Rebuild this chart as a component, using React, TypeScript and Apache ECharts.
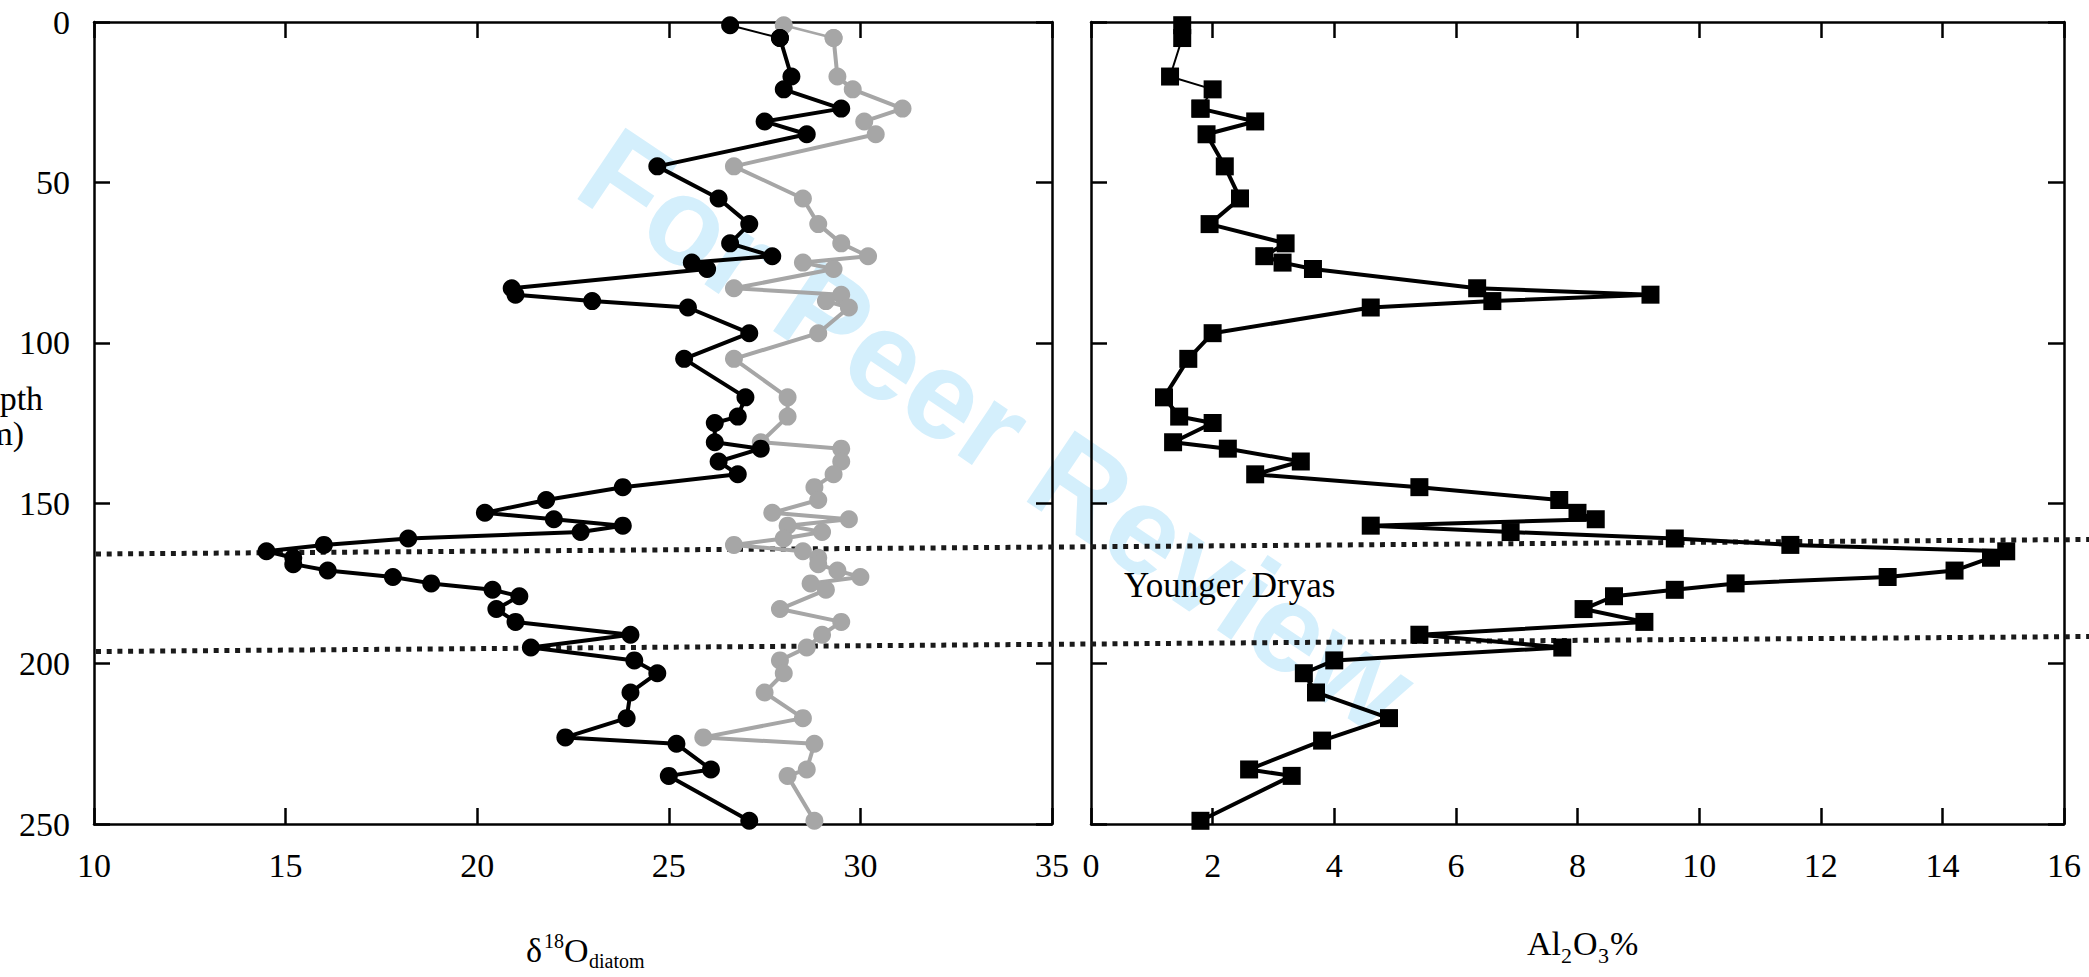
import React, { useEffect, useRef } from "react";
import * as echarts from "echarts";

// Depth (cm) and delta18O of diatom, black series
const blackDepth = [1, 5, 17, 21, 27, 31, 35, 45, 55, 63, 69, 73, 75, 77, 83, 85, 87, 89, 97, 105, 117, 123, 125, 131, 133, 137, 141, 145, 149, 153, 155, 157, 159, 161, 163, 165, 167, 169, 171, 173, 175, 177, 179, 183, 187, 191, 195, 199, 203, 209, 217, 223, 225, 233, 235, 249];
const blackD18O = [26.6, 27.9, 28.2, 28.0, 29.5, 27.5, 28.6, 24.7, 26.3, 27.1, 26.6, 27.7, 25.6, 26.0, 20.9, 21.0, 23.0, 25.5, 27.1, 25.4, 27.0, 26.8, 26.2, 26.2, 27.4, 26.3, 26.8, 23.8, 21.8, 20.2, 22.0, 23.8, 22.7, 18.2, 16.0, 14.5, 15.2, 15.2, 16.1, 17.8, 18.8, 20.4, 21.1, 20.5, 21.0, 24.0, 21.4, 24.1, 24.7, 24.0, 23.9, 22.3, 25.2, 26.1, 25.0, 27.1];

// grey series
const grayDepth = [1, 5, 17, 21, 27, 31, 35, 45, 55, 63, 69, 73, 75, 77, 83, 85, 87, 89, 97, 105, 117, 123, 131, 133, 137, 141, 145, 149, 153, 155, 157, 159, 161, 163, 165, 167, 169, 171, 173, 175, 177, 183, 187, 191, 195, 199, 203, 209, 217, 223, 225, 233, 235, 249];
const grayD18O = [28.0, 29.3, 29.4, 29.8, 31.1, 30.1, 30.4, 26.7, 28.5, 28.9, 29.5, 30.2, 28.5, 29.3, 26.7, 29.5, 29.1, 29.7, 28.9, 26.7, 28.1, 28.1, 27.4, 29.5, 29.5, 29.3, 28.8, 28.9, 27.7, 29.7, 28.1, 29.0, 28.0, 26.7, 28.5, 28.9, 28.9, 29.4, 30.0, 28.7, 29.1, 27.9, 29.5, 29.0, 28.6, 27.9, 28.0, 27.5, 28.5, 25.9, 28.8, 28.6, 28.1, 28.8];

// Al2O3 %
const alDepth = [1, 5, 17, 21, 27, 31, 35, 45, 55, 63, 69, 73, 75, 77, 83, 85, 87, 89, 97, 105, 117, 123, 125, 131, 133, 137, 141, 145, 149, 153, 155, 157, 159, 161, 163, 165, 167, 171, 173, 175, 177, 179, 183, 187, 191, 195, 199, 203, 209, 217, 224, 233, 235, 249];
const alPct = [1.5, 1.5, 1.3, 2.0, 1.8, 2.7, 1.9, 2.2, 2.45, 1.95, 3.2, 2.85, 3.15, 3.65, 6.35, 9.2, 6.6, 4.6, 2.0, 1.6, 1.2, 1.45, 2.0, 1.35, 2.25, 3.45, 2.7, 5.4, 7.7, 8.0, 8.3, 4.6, 6.9, 9.6, 11.5, 15.05, 14.8, 14.2, 13.1, 10.6, 9.6, 8.6, 8.1, 9.1, 5.4, 7.75, 4.0, 3.5, 3.7, 4.9, 3.8, 2.6, 3.3, 1.8];

const d18oRange = [10, 35, 5]; // min, max, interval
const alRange = [0, 16, 2];
const depthRange = [0, 250, 50];

const SERIF = "Liberation Serif";

function pairs(xs: number[], ys: number[], from: number, to: number) {
  const out: number[][] = [];
  for (let i = from; i < Math.min(to, xs.length); i++) out.push([xs[i], ys[i]]);
  return out;
}

export default function App() {
  const ref = useRef<HTMLDivElement>(null);
  useEffect(() => {
    if (!ref.current) return;
    const chart = echarts.init(ref.current, undefined, { renderer: "svg" });
    const axisLine = { show: true, onZero: false, lineStyle: { color: "#000", width: 2.5 } };
    const axisTick = { show: true, inside: true, length: 16, lineStyle: { color: "#000", width: 2.5 } };
    const label = () => ({ show: true, color: "#000", fontFamily: SERIF, fontSize: 34, fontWeight: "normal", margin: 24 });
    const noLabel = { show: false };
    const xAx = (grid: number, pos: string, r: number[], showLabel: boolean) => ({
      gridIndex: grid, type: "value", position: pos, min: r[0], max: r[1], interval: r[2],
      axisLine, axisTick, axisLabel: showLabel ? label() : noLabel, splitLine: { show: false },
    });
    const yAx = (grid: number, pos: string, showLabel: boolean) => ({
      gridIndex: grid, type: "value", position: pos, inverse: true, min: depthRange[0], max: depthRange[1], interval: depthRange[2],
      axisLine, axisTick, axisLabel: showLabel ? label() : noLabel, splitLine: { show: false },
    });
    const lineSeries = (data: number[][], xi: number, color: string, symbol: string, width: number, z = 3) => ({
      type: "line", xAxisIndex: xi, yAxisIndex: xi, data, symbol, symbolSize: 18,
      showAllSymbol: true, lineStyle: { color, width }, itemStyle: { color }, z, silent: true,
    });
    const txt = (text: string, x: number, y: number, size: number, align = "left", extra: any = {}) => ({
      type: "text", x, y, z: 20,
      style: { text, fill: "#000", fontSize: size, fontFamily: SERIF, align, textAlign: align, verticalAlign: "middle", textVerticalAlign: "middle", ...extra },
    });
    chart.setOption({
      animation: false,
      backgroundColor: "#fff",
      textStyle: { fontFamily: SERIF },
      grid: [
        { left: 94, top: 22, width: 958, height: 802 },
        { left: 1091, top: 22, width: 973, height: 802 },
      ],
      xAxis: [
        xAx(0, "bottom", d18oRange, true),
        xAx(0, "top", d18oRange, false),
        xAx(1, "bottom", alRange, true),
        xAx(1, "top", alRange, false),
      ],
      yAxis: [yAx(0, "left", true), yAx(0, "right", false), yAx(1, "left", false), yAx(1, "right", false)],
      series: [
        { ...lineSeries(pairs(grayD18O, grayDepth, 0, 2), 0, "#a6a6a6", "circle", 2.5) },
        { ...lineSeries(pairs(grayD18O, grayDepth, 1, 999), 0, "#a6a6a6", "circle", 4) },
        { ...lineSeries(pairs(blackD18O, blackDepth, 0, 2), 0, "#000", "circle", 2, 4) },
        { ...lineSeries(pairs(blackD18O, blackDepth, 1, 999), 0, "#000", "circle", 4, 4) },
        { ...lineSeries(pairs(alPct, alDepth, 0, 5), 2, "#000", "rect", 2) },
        { ...lineSeries(pairs(alPct, alDepth, 4, 999), 2, "#000", "rect", 4) },
      ],
      graphic: [
        {
          type: "text", x: 998, y: 430, rotation: (-34 * Math.PI) / 180, z: 0,
          style: { text: "For Peer Review", fill: "#d4effc", fontSize: 125, fontWeight: "bold", fontFamily: "Liberation Sans", align: "center", textAlign: "center", verticalAlign: "middle", textVerticalAlign: "middle" },
        },
        {
          type: "line", z: 1, shape: { x1: 96, y1: 554, x2: 2089, y2: 539.5 },
          style: { stroke: "#1a1a1a", lineWidth: 5, lineDash: [5, 5.7] },
        },
        {
          type: "line", z: 1, shape: { x1: 96, y1: 651.5, x2: 2089, y2: 636.5 },
          style: { stroke: "#1a1a1a", lineWidth: 5, lineDash: [5, 5.7] },
        },
        txt("Younger Dryas", 1124, 585, 35),
        txt("Depth", -40, 398.5, 34),
        txt("(cm)", -40, 433.5, 34),
        txt("\u03b4", 526, 950.5, 34),
        txt("18", 544, 941, 20),
        txt("O", 564, 950.5, 34),
        txt("diatom", 589, 961, 20),
        txt("Al", 1527, 943.5, 34),
        txt("2", 1561, 955.5, 22),
        txt("O", 1573, 943.5, 34),
        txt("3", 1598, 955.5, 22),
        txt("%", 1610, 943.5, 34),
      ],
    });
    return () => chart.dispose();
  }, []);
  return <div ref={ref} style={{ position: "fixed", left: 0, top: 0, width: 2089, height: 977, background: "#fff" }} />;
}
